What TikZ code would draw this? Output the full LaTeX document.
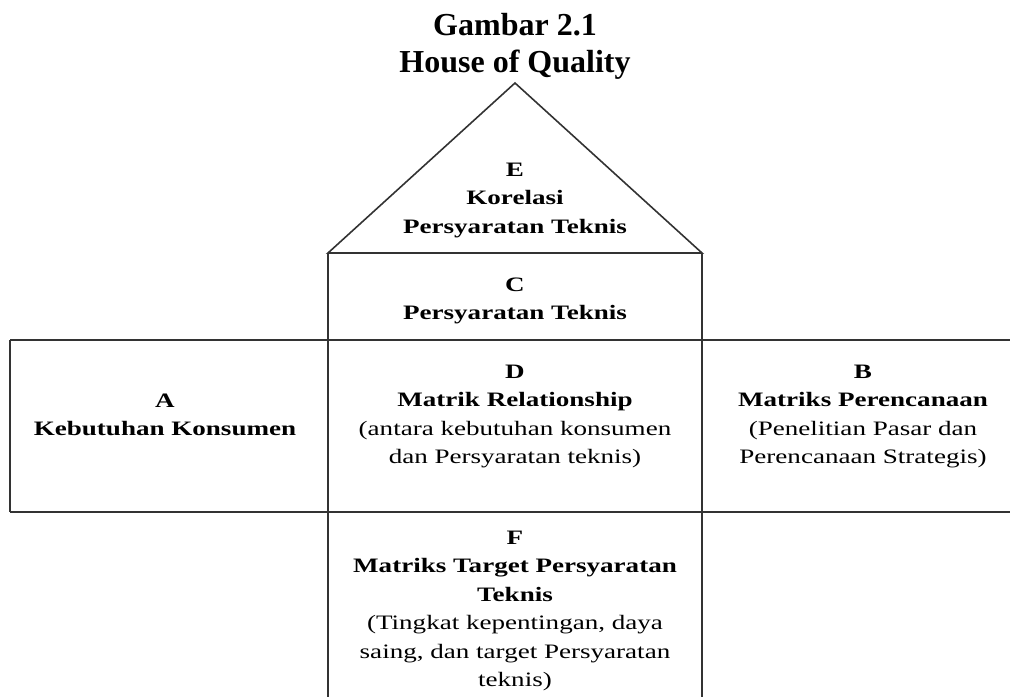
\documentclass[tikz,border=0pt]{standalone}
\usepackage{fontspec}
\setmainfont{Liberation Serif}
\newfontfamily\housefont[FakeStretch=1.32]{Liberation Serif}
\usetikzlibrary{positioning}

\begin{document}
\begin{tikzpicture}[x=1pt, y=-1pt, line width=1.6pt,
    wall/.style={draw=black!80},
    room/.style={align=center, inner sep=0pt, anchor=north, font=\housefont\fontsize{20.5}{28.5}\selectfont},
    heading/.style={anchor=base, inner sep=0pt, font=\bfseries\fontsize{32}{37}\selectfont}]
  \useasboundingbox (0,0) rectangle (1010,697);

  % judul
  \node[heading] (judul) at (515,35) {Gambar 2.1};
  \node[heading] (subjudul) at (515,72) {House of Quality};

  % sudut-sudut rumah
  \coordinate (atap) at (515,83);
  \coordinate (kiri) at (328,253);
  \coordinate (kanan) at (702,253);
  \coordinate (kiribawah) at (328,697);
  \coordinate (kananbawah) at (702,697);
  \coordinate (a1) at (10,340);
  \coordinate (a2) at (10,512);
  \coordinate (b1) at (1010,340);
  \coordinate (b2) at (1010,512);

  \draw[wall] (kiri) -- (atap) -- (kanan) -- cycle;
  \draw[wall] (kiri) -- (kiribawah);
  \draw[wall] (kanan) -- (kananbawah);
  \draw[wall] (a1) -- (b1);
  \draw[wall] (a2) -- (b2);
  \draw[wall] (a1) -- (a2);

  % isi
  \node[room] (E) at (515,162) {\textbf{E}\\ \textbf{Korelasi}\\ \textbf{Persyaratan Teknis}};
  \node[room] (C) at (515,277) {\textbf{C}\\ \textbf{Persyaratan Teknis}};
  \node[room] (A) at (165,393) {\textbf{A}\\ \textbf{Kebutuhan Konsumen}};
  \node[room] (D) at (515,364) {\textbf{D}\\ \textbf{Matrik Relationship}\\ (antara kebutuhan konsumen\\ dan Persyaratan teknis)};
  \node[room] (B) at (863,364) {\textbf{B}\\ \textbf{Matriks Perencanaan}\\ (Penelitian Pasar dan\\ Perencanaan Strategis)};
  \node[room] (F) at (515,530) {\textbf{F}\\ \textbf{Matriks Target Persyaratan}\\ \textbf{Teknis}\\ (Tingkat kepentingan, daya\\ saing, dan target Persyaratan\\ teknis)};

\end{tikzpicture}
\end{document}
